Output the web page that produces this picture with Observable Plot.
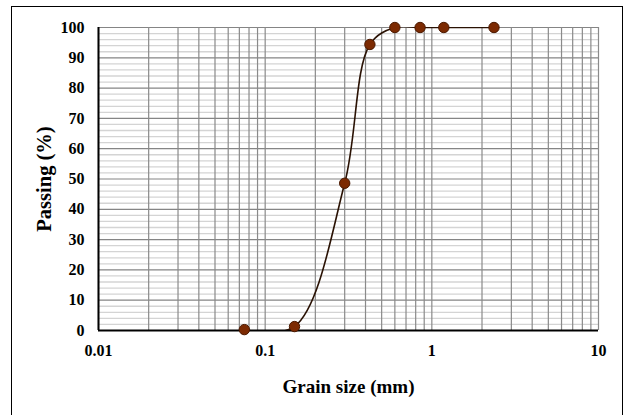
<!DOCTYPE html>
<html>
<head>
<meta charset="utf-8">
<script src="https://cdn.jsdelivr.net/npm/d3@7"></script>
<script src="https://cdn.jsdelivr.net/npm/@observablehq/plot@0.6"></script>
<style>
  html, body { margin: 0; padding: 0; background: #fff; overflow: hidden; }
  #wrap { position: relative; width: 625px; height: 415px; overflow: hidden; }
  #border { position: absolute; left: 11px; top: 6px; width: 612px; height: 430px; border: 1.5px solid #000; box-sizing: border-box; pointer-events: none; }
  #chart { position: absolute; left: 0; top: 0; }
</style>
</head>
<body>
<div id="wrap"><div id="chart"></div><div id="border"></div></div>
<script>
// Sieve sizes (mm) and percent passing
const sieve = [0.075, 0.15, 0.3, 0.425, 0.6, 0.85, 1.18, 2.36];
const passing = [0.3, 1.3, 48.6, 94.4, 100, 100, 100, 100];
const xTickValues = [0.01, 0.1, 1, 10];
const xTickLabels = ["0.01", "0.1", "1", "10"];
const yTickValues = [0, 10, 20, 30, 40, 50, 60, 70, 80, 90, 100];

const data = sieve.map((s, i) => ({size: s, pass: passing[i]}));

// log gridlines (1..9 per decade)
const xGrid = [];
for (const d of [0.01, 0.1, 1]) for (let k = 1; k <= 9; k++) xGrid.push(+(d * k).toPrecision(3));
xGrid.push(10);
const yMinor = d3.range(0, 101, 2).filter(v => v % 10 !== 0);

const font = "'Liberation Serif', 'Times New Roman', serif";

const plot = Plot.plot({
  width: 625,
  height: 415,
  marginLeft: 98,
  marginRight: 27,
  marginTop: 27,
  marginBottom: 85,
  style: {fontFamily: font, fontWeight: "bold", fontSize: "16px", color: "#000", background: "transparent"},
  x: {type: "log", domain: [0.01, 10]},
  y: {domain: [0, 100]},
  marks: [
    Plot.ruleY(yMinor, {stroke: "#d4d4d4", strokeWidth: 1.3}),
    Plot.ruleY(yTickValues, {stroke: "#858585", strokeWidth: 1.2}),
    Plot.ruleX(xGrid, {stroke: "#8a8a8a", strokeWidth: 1.2}),
    Plot.ruleX([0.01], {stroke: "#000", strokeWidth: 2}),
    Plot.ruleY([0], {stroke: "#000", strokeWidth: 2}),
    Plot.axisX({ticks: xTickValues, tickFormat: (d) => xTickLabels[xTickValues.indexOf(d)], tickSize: 0, tickPadding: 14, fontSize: 16, label: null}),
    Plot.axisY({ticks: yTickValues, tickSize: 0, tickPadding: 14, fontSize: 16, label: null}),
    Plot.axisX({ticks: [], tickSize: 0, fontSize: 19, label: "Grain size (mm)", labelAnchor: "center", labelArrow: "none", labelOffset: 62}),
    Plot.axisY({ticks: [], tickSize: 0, fontSize: 20.5, label: "Passing (%)", labelAnchor: "center", labelArrow: "none", labelOffset: 62}),
    Plot.line(data, {x: "size", y: "pass", curve: "catmull-rom", clip: true, stroke: "#2a1204", strokeWidth: 1.6}),
    Plot.dot(data, {x: "size", y: "pass", r: 5.2, fill: "#7c2a02", stroke: "#4a1800", strokeWidth: 1})
  ]
});
document.getElementById("chart").appendChild(plot);
</script>
</body>
</html>
